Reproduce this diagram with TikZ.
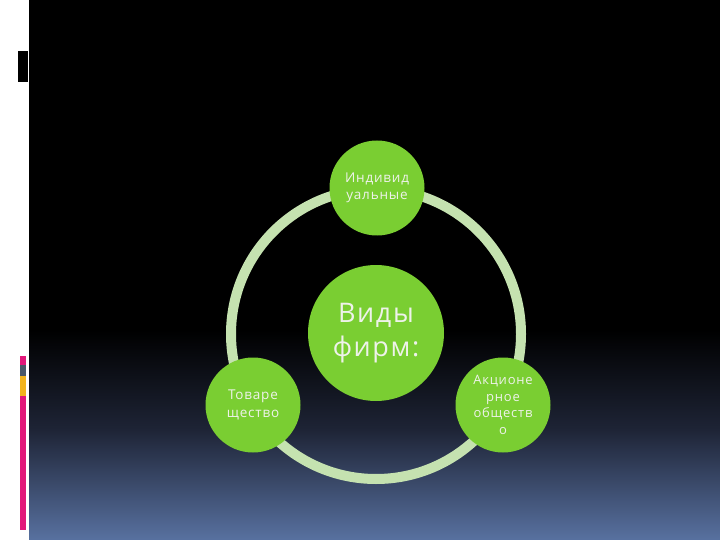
\documentclass[tikz,border=0pt]{standalone}
\usepackage{fontspec}
\setmainfont{Open Sans}
\newfontfamily\wide[LetterSpace=6]{Open Sans}
\definecolor{bubble}{RGB}{122,206,50}
\definecolor{ringc}{RGB}{197,226,176}
\definecolor{txt}{RGB}{238,242,234}
\definecolor{bluebot}{RGB}{88,113,160}
\definecolor{midblue}{RGB}{30,36,54}
\definecolor{magbar}{RGB}{226,24,122}
\definecolor{graybar}{RGB}{74,88,104}
\definecolor{yelbar}{RGB}{242,180,30}
\begin{document}
\begin{tikzpicture}[x=1pt,y=-1pt,
  bubble/.style={circle,fill=bubble,draw=none,inner sep=0pt,align=center,text=txt,font=\wide\fontsize{13.5}{17.5}\selectfont},
  hub/.style={circle,fill=bubble,draw=none,inner sep=0pt,align=center,text=txt,font=\wide\fontsize{27}{34}\selectfont}]
\useasboundingbox (0,0) rectangle (720,540);
% background
\fill[white] (0,0) rectangle (29,540);
\fill[black] (29,0) rectangle (720,331);
\shade[top color=black,bottom color=midblue] (29,330) rectangle (720,430);
\shade[top color=midblue,bottom color=bluebot] (29,429.5) rectangle (720,540);
% left decorations
\draw[white,fill=black,line width=0.8pt] (17,50) rectangle (28,82);
\fill[magbar] (20,356) rectangle (26,365);
\fill[graybar] (20,365) rectangle (26,376);
\fill[yelbar] (20,376) rectangle (26,396);
\fill[magbar] (20,396) rectangle (26,530);
% ring
\draw[ringc,line width=10pt] (376,334) circle (145);
% nodes
\node[hub,minimum size=136pt] (c) at (376,333) {Виды\\фирм:};
\node[bubble,minimum size=95pt] (t) at (377,188) {Индивид\\уальные};
\node[bubble,minimum size=95pt] (l) at (253,405) {Товаре\\щество};
\node[bubble,minimum size=95pt,font=\wide\fontsize{13}{16.5}\selectfont] (r) at (503,405) {Акционе\\рное\\обществ\\о};
\end{tikzpicture}
\end{document}
